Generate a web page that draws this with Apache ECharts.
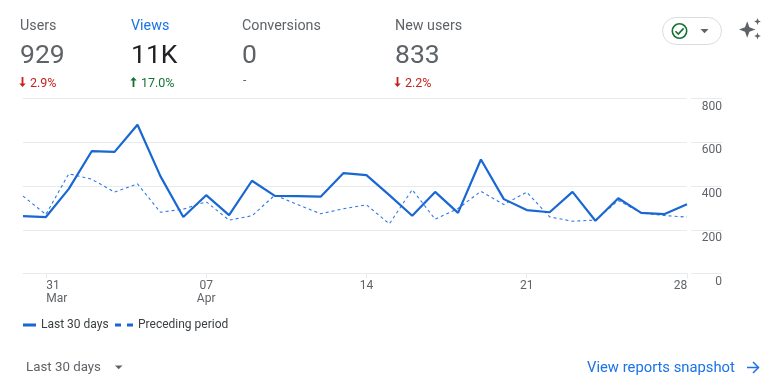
<!DOCTYPE html>
<html><head><meta charset="utf-8">
<style>html,body{margin:0;padding:0;background:#fff}#c{width:770px;height:389px}</style>
<script src="https://cdn.jsdelivr.net/npm/echarts@6/dist/echarts.min.js"></script>
</head><body><div id="c"></div>
<script>
const days = ["30","31","01","02","03","04","05","06","07","08","09","10","11","12","13","14","15","16","17","18","19","20","21","22","23","24","25","26","27","28"];
const months = {"31":"Mar","07":"Apr"};
const lastPeriod = [262,258,387,559,556,680,445,258,358,267,424,355,354,351,459,450,358,264,373,277,521,340,290,280,373,241,344,277,271,317];
const prevPeriod = [354,270,456,431,372,410,280,294,328,244,264,358,315,273,296,314,227,383,248,297,376,315,372,259,239,244,334,277,265,258];
const yTicks = [0,200,400,600,800];
const metricNames = ["Users","Views","Conversions","New users"];
const metricValues = ["929","11K","0","833"];
const metricDeltas = ["2.9%","17.0%","-","2.2%"];
const metricDirs = ["down","up","none","down"];
const metricX = [20,131,242,395];

const FONT = 'Roboto, sans-serif';
const BLUE = '#1967d2', GRID = '#e8eaed', GREY = '#5f6368';
const RED = '#c5221f', GREEN = '#137333';

const g = [];
metricNames.forEach((n,i)=>{
  const x = metricX[i];
  g.push({type:'text',style:{x,y:26,text:n,font:`14.3px ${FONT}`,fill:i===1?'#1a73e8':GREY,textVerticalAlign:'middle'}});
  g.push({type:'text',style:{x,y:56.5,text:metricValues[i],font:`26.5px ${FONT}`,fill:i===1?'#202124':GREY,textVerticalAlign:'middle'}});
  const d = metricDirs[i];
  if (d==='none') {
    g.push({type:'text',style:{x:x+1,y:81,text:metricDeltas[i],font:`12px ${FONT}`,fill:GREY,textVerticalAlign:'middle'}});
  } else {
    const c = d==='up'?GREEN:RED;
    const cx = x+2.5, s = d==='up'?1:-1, cy = 82;
    const pts = [[0,-5],[3.2,-1.6],[0.9,-1.6],[0.9,5],[-0.9,5],[-0.9,-1.6],[-3.2,-1.6]].map(p=>[cx+p[0],cy+s*p[1]]);
    g.push({type:'polygon',shape:{points:pts},style:{fill:c}});
    g.push({type:'text',style:{x:x+10,y:83.5,text:metricDeltas[i],font:`12.5px ${FONT}`,fill:c,textVerticalAlign:'middle'}});
  }
});
// status pill
g.push({type:'rect',shape:{x:662.5,y:17.5,width:59,height:27,r:13.5},style:{fill:'#fff',stroke:'#dadce0',lineWidth:1}});
g.push({type:'circle',shape:{cx:679.5,cy:31,r:7.2},style:{fill:'none',stroke:'#137333',lineWidth:1.6}});
g.push({type:'polyline',shape:{points:[[675.5,31.2],[678.3,34],[683.6,28.4]]},style:{fill:'none',stroke:'#137333',lineWidth:1.6}});
g.push({type:'polygon',shape:{points:[[700.5,29],[708.5,29],[704.5,33.2]]},style:{fill:GREY}});
// sparkle
const spark=(cx,cy,r)=>{const q=r*0.27;return {type:'polygon',shape:{points:[[cx,cy-r],[cx+q,cy-q],[cx+r,cy],[cx+q,cy+q],[cx,cy+r],[cx-q,cy+q],[cx-r,cy],[cx-q,cy-q]]},style:{fill:GREY}};};
g.push(spark(747.2,29.5,8.2),spark(757.5,21.5,3.4),spark(757.5,36,3.4));
// footer
g.push({type:'text',style:{x:26,y:367.5,text:'Last 30 days',font:`13.3px ${FONT}`,fill:GREY,textVerticalAlign:'middle'}});
g.push({type:'polygon',shape:{points:[[115,365.5],[122.5,365.5],[118.7,369.3]]},style:{fill:GREY}});
g.push({type:'text',style:{x:587,y:368.5,text:'View reports snapshot',font:`14.8px ${FONT}`,fill:'#1a73e8',textVerticalAlign:'middle'}});
g.push({type:'polyline',shape:{points:[[747,367.5],[758.5,367.5]]},style:{fill:'none',stroke:'#1a73e8',lineWidth:1.5}});
g.push({type:'polyline',shape:{points:[[753,362],[758.5,367.5],[753,373]]},style:{fill:'none',stroke:'#1a73e8',lineWidth:1.5}});

const labelled = (idx)=> (idx-1)%7===0;
const legendText = {fontFamily:FONT,fontSize:12,color:'#3c4043'};
const chart = echarts.init(document.getElementById('c'),null,{renderer:'canvas'});
chart.setOption({
  animation:false,
  textStyle:{fontFamily:FONT},
  graphic:g,
  grid:[
    {left:23,right:83,top:98.5,height:175},
    {left:691,width:31,top:98.5,height:175}
  ],
  legend:[
    {left:23,top:319,padding:0,itemWidth:13,itemHeight:3,height:14,textStyle:legendText,
      data:[{name:'Last 30 days',icon:'rect'}]},
    {left:115,top:319,padding:0,itemWidth:18,itemHeight:3,height:14,textStyle:legendText,
      data:[{name:'Preceding period',icon:'path://M0 0H6V3H0Z M12 0H18V3H12Z',itemStyle:{color:BLUE}}]}
  ],
  xAxis:[
    {type:'category',gridIndex:0,data:days,boundaryGap:false,
      axisLine:{lineStyle:{color:GRID}},
      axisTick:{show:true,length:5,interval:(i)=>labelled(i),lineStyle:{color:GRID}},
      splitLine:{show:false},
      axisLabel:{show:true,interval:(i)=>labelled(i),margin:6,
        formatter:(v)=>{
          if(v==='31') return '{l|31}\n{l|Mar}';
          if(v==='28') return '{r|28}';
          return months[v]?`{c|${v}}\n{c|${months[v]}}`:`{c|${v}}`;
        },
        rich:{
          c:{fontFamily:FONT,fontSize:12,color:GREY,lineHeight:13,align:'center'},
          l:{fontFamily:FONT,fontSize:12,color:GREY,lineHeight:13,align:'left',padding:[0,0,0,22]},
          r:{fontFamily:FONT,fontSize:12,color:GREY,lineHeight:13,padding:[0,13,0,0]}
        }}},
    {type:'category',gridIndex:1,data:['a','b'],boundaryGap:false,show:false}
  ],
  yAxis:[
    {type:'value',gridIndex:0,min:0,max:800,interval:200,position:'right',
      axisLine:{show:false},axisTick:{show:false},axisLabel:{show:false},
      splitLine:{show:true,lineStyle:{color:GRID,width:1}}},
    {type:'value',gridIndex:1,min:0,max:800,interval:200,position:'right',
      axisLine:{show:false},axisTick:{show:false},
      axisLabel:{show:true,inside:true,margin:0,align:'right',verticalAlign:'top',padding:[2,0,0,0],
        color:GREY,fontFamily:FONT,fontSize:12,customValues:yTicks},
      splitLine:{show:true,lineStyle:{color:GRID,width:1}}}
  ],
  series:[
    {name:'Preceding period',type:'line',data:prevPeriod,symbol:'none',z:2,xAxisIndex:0,yAxisIndex:0,
      lineStyle:{color:'#2f78e4',width:1.1,type:[3,3]},itemStyle:{color:BLUE}},
    {name:'Last 30 days',type:'line',data:lastPeriod,symbol:'none',z:3,xAxisIndex:0,yAxisIndex:0,
      lineStyle:{color:BLUE,width:2.2},itemStyle:{color:BLUE}}
  ]
});
</script></body></html>
